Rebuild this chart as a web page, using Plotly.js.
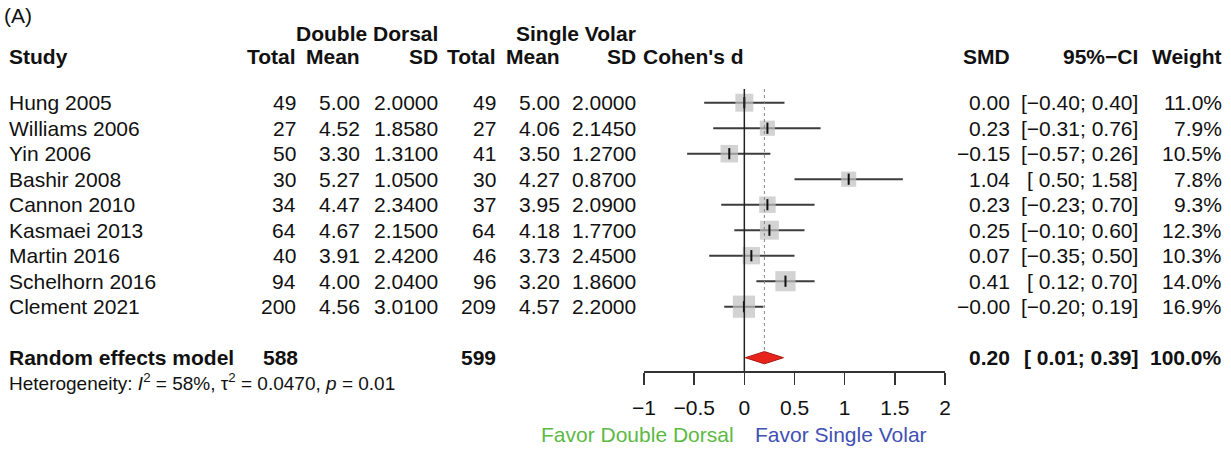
<!DOCTYPE html>
<html>
<head>
<meta charset="utf-8">
<script src="https://cdn.plot.ly/plotly-3.0.1.min.js"></script>
<style>html,body{margin:0;padding:0;background:#fff;}#chart{width:1231px;height:449px;}</style>
</head>
<body>
<div id="chart"></div>
<script>
// ---- data ----
const studies = ["Hung 2005","Williams 2006","Yin 2006","Bashir 2008","Cannon 2010","Kasmaei 2013","Martin 2016","Schelhorn 2016","Clement 2021"];
const ddTotal = [49,27,50,30,34,64,40,94,200];
const ddMean  = [5.00,4.52,3.30,5.27,4.47,4.67,3.91,4.00,4.56];
const ddSD    = [2.0000,1.8580,1.3100,1.0500,2.3400,2.1500,2.4200,2.0400,3.0100];
const svTotal = [49,27,41,30,37,64,46,96,209];
const svMean  = [5.00,4.06,3.50,4.27,3.95,4.18,3.73,3.20,4.57];
const svSD    = [2.0000,2.1450,1.2700,0.8700,2.0900,1.7700,2.4500,1.8600,2.2000];
const smd     = [0.00,0.23,-0.15,1.04,0.23,0.25,0.07,0.41,-0.004];
const ciLow   = [-0.40,-0.31,-0.57,0.50,-0.23,-0.10,-0.35,0.12,-0.20];
const ciHigh  = [0.40,0.76,0.26,1.58,0.70,0.60,0.50,0.70,0.19];
const weight  = [11.0,7.9,10.5,7.8,9.3,12.3,10.3,14.0,16.9];
const pooledSMD = [0.20];
const pooledLow = [0.01];
const pooledHigh = [0.39];
const pooledTotals = [588, 599];
const hetText = "Heterogeneity: <i>I</i><sup>2</sup> = 58%, τ<sup>2</sup> = 0.0470, <i>p</i> = 0.01";
const xTicks = [-1,-0.5,0,0.5,1,1.5,2];
const xTickText = ["−1","−0.5","0","0.5","1","1.5","2"];

// ---- layout helpers ----
const W = 1231, H = 449;
const ROW0 = 102.7, ROWH = 25.5;           // pixel of first study row, row spacing
const idx = p => (p - ROW0) / ROWH;         // pixel -> row index
const px = p => p / W;                      // pixel -> paper x
const pooledRow = 10;
const minus = s => s.replace(/-/g, "−");
const f2 = v => minus(v.toFixed(2));
const f4 = v => minus(v.toFixed(4));
const lowStr = v => v < 0 ? f2(v) : " " + v.toFixed(2);

const rows = studies.map((s,i)=>i);

// CI lines
const ciX = [], ciY = [];
rows.forEach(i => { ciX.push(ciLow[i], ciHigh[i], null); ciY.push(i, i, null); });

const traces = [
  {x: ciX, y: ciY, mode: "lines", line: {color: "#3c3c3c", width: 2}, hoverinfo: "skip", showlegend: false},
  {x: smd, y: rows, mode: "markers", marker: {symbol: "square", color: "#c0c0c0", size: weight.map(w => 5.4*Math.sqrt(w)), line: {width: 0}}, showlegend: false},
  {x: smd, y: rows, mode: "markers", marker: {symbol: "line-ns", size: 8, line: {color: "#111", width: 2}}, showlegend: false},
  {x: [pooledLow[0], pooledSMD[0], pooledHigh[0], pooledSMD[0], pooledLow[0]],
   y: [pooledRow, pooledRow - 0.24, pooledRow, pooledRow + 0.24, pooledRow],
   mode: "lines", fill: "toself", fillcolor: "#e8231c", line: {color: "#a81812", width: 1}, showlegend: false}
];

const ann = [];
function t(text, xpx, y, anchor, opts) {
  ann.push(Object.assign({text: text, x: px(xpx + (anchor === "right" ? 2 : -2)), y: y, xref: "paper", yref: "y",
    xanchor: anchor, yanchor: "middle", showarrow: false, borderpad: 0}, opts || {}));
}
const B = s => "<b>" + s + "</b>";

// header
t("(A)", 5, idx(15), "left");
t(B("Double Dorsal"), 437, idx(33), "right");
t(B("Single Volar"), 635, idx(33), "right");
const hy = idx(56);
t(B("Study"), 10, hy, "left");
t(B("Total"), 295, hy, "right");
t(B("Mean"), 359, hy, "right");
t(B("SD"), 437, hy, "right");
t(B("Total"), 495, hy, "right");
t(B("Mean"), 559, hy, "right");
t(B("SD"), 635, hy, "right");
t(B("Cohen's d"), 644, hy, "left");
t(B("SMD"), 1009, hy, "right");
t(B("95%−CI"), 1137, hy, "right");
t(B("Weight"), 1221, hy, "right");

// study rows
rows.forEach(i => {
  t(studies[i], 10, i, "left");
  t(String(ddTotal[i]), 295, i, "right");
  t(ddMean[i].toFixed(2), 359, i, "right");
  t(f4(ddSD[i]), 437, i, "right");
  t(String(svTotal[i]), 495, i, "right");
  t(svMean[i].toFixed(2), 559, i, "right");
  t(f4(svSD[i]), 635, i, "right");
  t(f2(smd[i]), 1009, i, "right");
  t("[" + lowStr(ciLow[i]) + "; " + f2(ciHigh[i]) + "]", 1137, i, "right");
  t(weight[i].toFixed(1) + "%", 1221, i, "right");
});

// pooled row
t(B("Random effects model"), 10, pooledRow, "left");
t(B(String(pooledTotals[0])), 297, pooledRow, "right");
t(B(String(pooledTotals[1])), 495, pooledRow, "right");
t(B(f2(pooledSMD[0])), 1009, pooledRow, "right");
t(B("[" + lowStr(pooledLow[0]) + "; " + f2(pooledHigh[0]) + "]"), 1137, pooledRow, "right");
t(B("100.0%"), 1221, pooledRow, "right");
t(hetText, 10, idx(382), "left", {font: {size: 19}});

// favour labels
t("Favor Double Dorsal", 733, idx(434), "right", {font: {color: "#5cb944"}});
t("Favor Single Volar", 756, idx(434), "left", {font: {color: "#4150b4"}});

const layout = {
  width: W, height: H,
  margin: {l: 0, r: 0, t: 0, b: 0},
  paper_bgcolor: "#fff", plot_bgcolor: "#fff",
  font: {family: "Liberation Sans, Arial, Helvetica, sans-serif", size: 21, color: "#111"},
  showlegend: false,
  xaxis: {
    domain: [644/W, 945/W], range: [-1, 2], anchor: "free", position: (H - 371)/H,
    showline: true, linecolor: "#333", linewidth: 1.5,
    ticks: "outside", ticklen: 12, tickwidth: 1.5, tickcolor: "#333",
    tickvals: xTicks, ticktext: xTickText, tickfont: {size: 21, color: "#111"},
    ticklabelstandoff: 5,
    showgrid: false, zeroline: false, fixedrange: true
  },
  yaxis: {
    domain: [0, 1], range: [idx(H), idx(0)], visible: false, showgrid: false, zeroline: false, fixedrange: true
  },
  shapes: [
    {type: "line", xref: "x", yref: "y", x0: 0, x1: 0, y0: idx(89), y1: idx(371), line: {color: "#222", width: 1.5}},
    {type: "line", xref: "x", yref: "y", x0: pooledSMD[0], x1: pooledSMD[0], y0: idx(89), y1: pooledRow - 0.24, line: {color: "#888", width: 1, dash: "dot"}}
  ],
  annotations: ann
};

Plotly.newPlot("chart", traces, layout, {displayModeBar: false, staticPlot: true});
</script>
</body>
</html>
